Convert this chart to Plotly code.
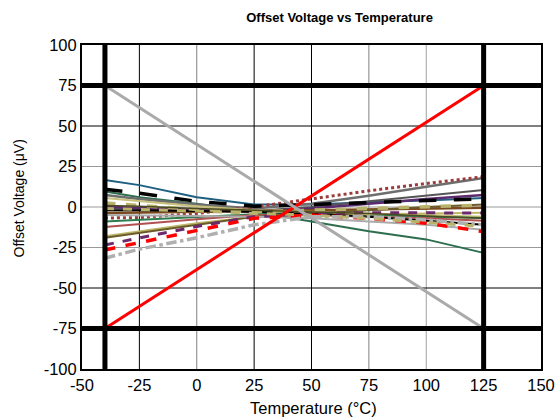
import plotly.graph_objects as go

TEMPS = [-40, -25, 0, 25, 50, 75, 100, 125]

SERIES_NAMES = [
    "u01", "u02", "u03", "u04", "u05", "u06", "u07", "u08", "u09", "u10",
    "u11", "u12", "u13", "u14", "u15", "u16", "u17", "u18", "u19", "u20",
    "u21", "min", "max",
]
SERIES_VALUES = [
    [16.6, 13.5, 6.0, 1.5, 1.5, 3.0, 4.0, 5.5],          # teal
    [9.5, 6.0, 2.0, -3.0, -9.0, -15.0, -20.0, -28.3],     # dark green
    [7.4, 5.0, 1.5, -1.0, 2.0, 7.0, 12.5, 17.9],          # gray
    [-6.8, -6.5, -4.0, 0.0, 5.0, 10.0, 14.5, 18.7],       # brown dotted
    [-0.4, -1.0, -2.0, -2.5, 0.0, 3.5, 7.0, 10.5],        # dark gray
    [0.2, -0.5, -2.0, -3.0, -1.0, 2.0, 5.0, 7.4],         # purple
    [-3.7, -3.5, -3.0, -2.5, -2.0, -1.5, -1.0, -0.4],     # brown
    [5.5, 3.5, 0.5, -2.0, -3.0, -4.0, -5.0, -6.0],        # khaki
    [-9.0, -8.0, -6.0, -4.5, -4.5, -5.0, -6.0, -6.8],     # green
    [-12.4, -10.5, -7.5, -5.0, -5.0, -6.0, -7.0, -8.5],   # rosy
    [-18.0, -15.0, -10.0, -6.0, -5.0, -4.5, -4.0, -3.5],  # khaki 2
    [-19.0, -16.0, -11.0, -6.0, -4.0, -2.0, 0.0, 1.5],    # olive brown
    [-2.0, -2.0, -2.5, -3.0, -4.0, -6.0, -8.5, -11.0],    # black thin
    [-4.9, -5.0, -5.5, -6.0, -7.0, -9.0, -11.0, -14.0],   # light gray
    [2.5, 1.0, -1.5, -3.0, -2.0, -1.0, 0.0, 1.2],         # khaki dashed
    [-23.4, -19.0, -12.0, -6.0, -4.0, -3.5, -3.5, -3.7],  # purple dashed
    [-26.5, -22.0, -14.0, -7.0, -5.0, -7.0, -10.0, -15.2],# red dashed
    [-31.6, -26.0, -19.0, -11.0, -6.0, -6.0, -8.0, -11.0],# gray dash-dot
    [11.0, 8.5, 3.5, 0.5, 1.5, 3.0, 4.0, 5.0],            # black long dash
    [-1.0, -1.5, -2.5, -4.0, -5.0, -7.0, -9.5, -12.0],    # khaki dashed 2
    [1.0, 0.5, -1.0, -2.0, -3.0, -4.0, -5.5, -7.0],       # dark olive
    [-75.0, -61.4, -38.6, -15.9, 6.8, 29.5, 52.3, 75.0],  # red limit
    [75.0, 61.4, 38.6, 15.9, -6.8, -29.5, -52.3, -75.0],  # gray limit
]
SERIES_COLORS = [
    "#1f6080", "#2d6e4e", "#6e6e6e", "#9b3b3b", "#555555", "#5c2a6e",
    "#7a4a1e", "#c8c07a", "#2e7d4f", "#b05050", "#bdb66a", "#6b5a2a",
    "#000000", "#aaaaaa", "#b9b26b", "#6b2a6b", "#ff0000", "#b0b0b0",
    "#000000", "#b9b26b", "#4a4a20", "#ff0000", "#aaaaaa",
]
SERIES_DASH = [
    "solid", "solid", "solid", "dot", "solid", "solid", "solid", "solid",
    "solid", "solid", "solid", "solid", "solid", "solid", "dash", "dash",
    "dash", "dashdot", "longdash", "dash", "solid", "solid", "solid",
]
SERIES_WIDTH = [
    2, 2, 2.5, 3, 2, 2.5, 2.5, 2, 2, 2, 2, 2, 2, 2, 3.5, 3, 3.5, 3.5, 3.5,
    3, 1.5, 3, 3,
]

X_TICKS = [-50, -25, 0, 25, 50, 75, 100, 125, 150]
X_LABELS = ["-50", "-25", "0", "25", "50", "75", "100", "125", "150"]
Y_TICKS = [-100, -75, -50, -25, 0, 25, 50, 75, 100]
Y_LABELS = ["-100", "-75", "-50", "-25", "0", "25", "50", "75", "100"]

X_GRID = [-25, 0, 25, 50, 75, 100]
X_GRID_COLORS = ["#000000", "#808080", "#000000", "#000000", "#808080", "#a0a0a0"]
Y_GRID = [-50, -25, 0, 25, 50]
Y_GRID_COLORS = ["#000000", "#999999", "#999999", "#999999", "#000000"]
X_LIMITS = [-40, 125]
Y_LIMITS = [-75, 75]

fig = go.Figure()
for name, vals, col, dash, w in zip(SERIES_NAMES, SERIES_VALUES, SERIES_COLORS,
                                    SERIES_DASH, SERIES_WIDTH):
    fig.add_trace(go.Scatter(x=TEMPS, y=vals, mode="lines", name=name,
                             line=dict(color=col, dash=dash, width=w),
                             showlegend=False))

shapes = []
for xv, c in zip(X_GRID, X_GRID_COLORS):
    shapes.append(dict(type="line", xref="x", yref="paper", x0=xv, x1=xv,
                       y0=0, y1=1, line=dict(color=c, width=1), layer="below"))
for yv, c in zip(Y_GRID, Y_GRID_COLORS):
    shapes.append(dict(type="line", xref="paper", yref="y", x0=0, x1=1,
                       y0=yv, y1=yv, line=dict(color=c, width=1), layer="below"))
for xv in X_LIMITS:
    shapes.append(dict(type="line", xref="x", yref="paper", x0=xv, x1=xv,
                       y0=0, y1=1, line=dict(color="black", width=5), layer="above"))
for yv in Y_LIMITS:
    shapes.append(dict(type="line", xref="paper", yref="y", x0=0, x1=1,
                       y0=yv, y1=yv, line=dict(color="black", width=5), layer="above"))

W, H = 556, 418
L, R, T, B = 82, 15, 45, 49
PW, PH = W - L - R, H - T - B

font_family = "Liberation Sans, Arial, sans-serif"
fig.update_layout(
    width=W, height=H,
    margin=dict(l=L, r=R, t=T, b=B, autoexpand=False),
    paper_bgcolor="white", plot_bgcolor="white",
    font=dict(family=font_family, color="black", size=16),
    title=dict(text="<b>Offset Voltage vs Temperature</b>", x=312 / W,
               xanchor="center", xref="paper", y=1 - 17 / H, yanchor="middle",
               font=dict(size=13, family=font_family)),
    shapes=shapes,
    annotations=[
        dict(text="Temperature (°C)", xref="paper", yref="paper",
             x=(313 - L) / PW, y=-(408 - (T + PH)) / PH, xanchor="center",
             yanchor="middle", showarrow=False, font=dict(size=16.5)),
        dict(text="Offset Voltage (μV)", xref="paper", yref="paper",
             x=(18 - L) / PW, y=1 - (198.5 - T) / PH, xanchor="center",
             yanchor="middle", textangle=-90, showarrow=False,
             font=dict(size=14)),
    ],
    xaxis=dict(range=[-50, 150], tickvals=X_TICKS, ticktext=X_LABELS,
               showgrid=False, zeroline=False, showline=True, linecolor="black",
               linewidth=2, mirror=True, ticks="", tickfont=dict(size=16.5),
               automargin=False),
    yaxis=dict(range=[-100, 100], tickvals=Y_TICKS, ticktext=Y_LABELS,
               showgrid=False, zeroline=False, showline=True, linecolor="black",
               linewidth=2, mirror=True, ticks="", tickfont=dict(size=16.5),
               automargin=False),
)

fig.write_html(
    "out.html",
    config={"displayModeBar": False},
    post_script="document.body.style.margin='0';document.body.style.overflow='hidden';",
)
